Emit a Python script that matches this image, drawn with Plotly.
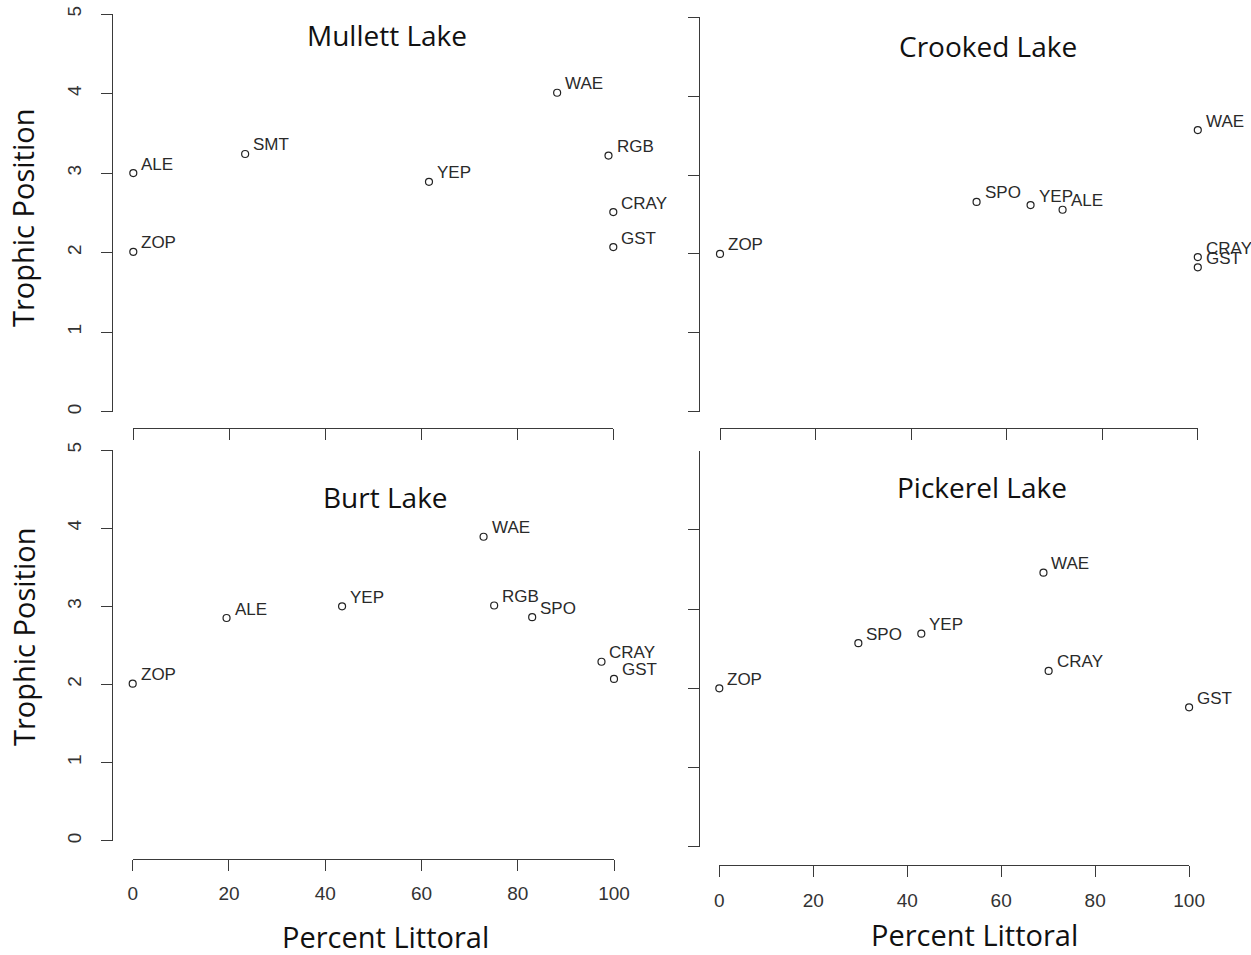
import plotly.graph_objects as go

# ---------------- data ----------------
lakes = ["Mullett Lake", "Crooked Lake", "Burt Lake", "Pickerel Lake"]

mullett_species = ["ALE", "ZOP", "SMT", "YEP", "WAE", "RGB", "CRAY", "GST"]
mullett_littoral = [0, 0, 23.3, 61.6, 88.3, 99.0, 100, 100]
mullett_tp = [3.00, 2.01, 3.24, 2.89, 4.01, 3.22, 2.51, 2.07]

crooked_species = ["ZOP", "SPO", "YEP", "ALE", "WAE", "CRAY", "GST"]
crooked_littoral = [0, 53.7, 65.0, 71.7, 100, 100, 100]
crooked_tp = [2.00, 2.66, 2.62, 2.56, 3.57, 1.96, 1.83]

burt_species = ["ZOP", "ALE", "YEP", "WAE", "RGB", "SPO", "CRAY", "GST"]
burt_littoral = [0, 19.5, 43.5, 72.9, 75.1, 83.0, 97.4, 100]
burt_tp = [2.01, 2.85, 3.00, 3.89, 3.01, 2.86, 2.29, 2.07]

pickerel_species = ["ZOP", "SPO", "YEP", "WAE", "CRAY", "GST"]
pickerel_littoral = [0, 29.6, 43.0, 69.0, 70.1, 100]
pickerel_tp = [2.00, 2.57, 2.69, 3.46, 2.22, 1.76]

x_ticks = [0, 20, 40, 60, 80, 100]
y_ticks = [0, 1, 2, 3, 4, 5]
y_ticks_br = [0, 1, 2, 3, 4]

x_title = "Percent Littoral"
y_title = "Trophic Position"

# ---------------- layout helpers ----------------
W, H = 1251, 955


def fx(p):
    return p / W


def fy(p):
    return 1 - p / H


AXC = "#3a3a3a"
TXT = "#2a2a2a"
LAB_FONT = dict(family="Liberation Sans, Arial, sans-serif", size=17, color=TXT)
TICK_FONT = dict(family="Liberation Sans, Arial, sans-serif", size=19, color="#333333")
BIG_FONT = dict(family="Open Sans, sans-serif", size=28, color="#111111")
AX_FONT = dict(family="Open Sans, sans-serif", size=29, color="#111111")

panels = [
    dict(sp=mullett_species, xs=mullett_littoral, ys=mullett_tp,
         xdom=(133.3, 613.3), ydom=(411.7, 14.0), xline=428.3, yline=111.7,
         yt=y_ticks, xlab=False, ylab=True, title_xy=(387, 35)),
    dict(sp=crooked_species, xs=crooked_littoral, ys=crooked_tp,
         xdom=(720.0, 1197.8), ydom=(411.7, 17.3), xline=428.3, yline=699.0,
         yt=y_ticks, xlab=False, ylab=False, title_xy=(988, 46)),
    dict(sp=burt_species, xs=burt_littoral, ys=burt_tp,
         xdom=(132.7, 614.0), ydom=(840.7, 450.0), xline=858.5, yline=111.7,
         yt=y_ticks, xlab=True, ylab=True, title_xy=(385.5, 497)),
    dict(sp=pickerel_species, xs=pickerel_littoral, ys=pickerel_tp,
         xdom=(719.3, 1189.1), ydom=(846.7, 450.7), xline=865.0, yline=699.0,
         yt=y_ticks_br, xlab=True, ylab=False, title_xy=(982, 487)),
]

fig = go.Figure()
annotations = []
layout_axes = {}

for i, p in enumerate(panels, start=1):
    xa = "x" if i == 1 else f"x{i}"
    ya = "y" if i == 1 else f"y{i}"
    fig.add_trace(go.Scatter(
        x=p["xs"], y=p["ys"], mode="markers", xaxis=xa, yaxis=ya,
        marker=dict(symbol="circle-open", size=7, color="#222222",
                    line=dict(width=1.2, color="#222222")),
        cliponaxis=False, showlegend=False, hoverinfo="skip"))

    layout_axes["xaxis" if i == 1 else f"xaxis{i}"] = dict(
        domain=[fx(p["xdom"][0]), fx(p["xdom"][1])], range=[0, 100],
        anchor="free", position=fy(p["xline"]), automargin=False,
        showline=True, linecolor=AXC, linewidth=1.3,
        ticks="outside", ticklen=11, tickwidth=1.3, tickcolor=AXC,
        tickmode="array", tickvals=x_ticks,
        showticklabels=p["xlab"], tickfont=TICK_FONT, ticklabelstandoff=7,
        showgrid=False, zeroline=False, fixedrange=True)
    layout_axes["yaxis" if i == 1 else f"yaxis{i}"] = dict(
        domain=[fy(p["ydom"][0]), fy(p["ydom"][1])], range=[0, 5],
        anchor="free", position=fx(p["yline"]), automargin=False,
        showline=True, linecolor=AXC, linewidth=1.3,
        ticks="outside", ticklen=11, tickwidth=1.3, tickcolor=AXC,
        tickmode="array", tickvals=p["yt"], tickangle=-90,
        showticklabels=p["ylab"], tickfont=TICK_FONT, ticklabelstandoff=12,
        showgrid=False, zeroline=False, fixedrange=True)

    for s, xv, yv in zip(p["sp"], p["xs"], p["ys"]):
        annotations.append(dict(
            x=xv, y=yv, xref=xa, yref=ya, text=s, showarrow=False,
            xanchor="left", yanchor="middle", xshift=8, yshift=9,
            borderpad=0, borderwidth=0, font=LAB_FONT))

    annotations.append(dict(
        x=fx(p["title_xy"][0]), y=fy(p["title_xy"][1]), xref="paper", yref="paper",
        text=lakes[i - 1], showarrow=False, xanchor="center", yanchor="middle",
        font=BIG_FONT))

# axis titles
for (cx, cy) in [(23, 218), (23, 637)]:
    annotations.append(dict(
        x=fx(cx), y=fy(cy), xref="paper", yref="paper", text=y_title,
        textangle=-90, showarrow=False, xanchor="center", yanchor="middle",
        font=AX_FONT))
for (cx, cy) in [(385, 936), (974, 934)]:
    annotations.append(dict(
        x=fx(cx), y=fy(cy), xref="paper", yref="paper", text=x_title,
        showarrow=False, xanchor="center", yanchor="middle", font=AX_FONT))

fig.update_layout(
    width=W, height=H, autosize=False,
    margin=dict(l=0, r=0, t=0, b=0, pad=0, autoexpand=False),
    paper_bgcolor="white", plot_bgcolor="white",
    annotations=annotations, showlegend=False,
    **layout_axes)

fig.write_html(
    "out.html", config={"displayModeBar": False},
    post_script="document.body.style.margin='0';"
                "document.documentElement.style.overflow='hidden';")
